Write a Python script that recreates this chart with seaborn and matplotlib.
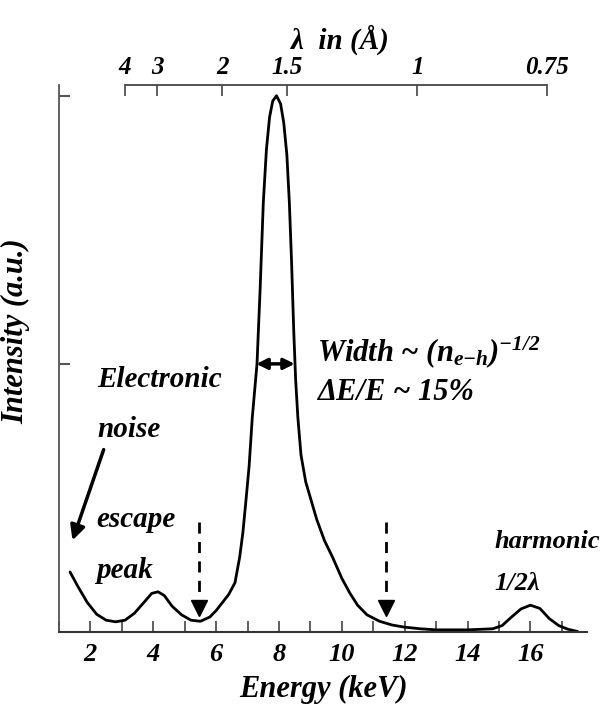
import matplotlib
import matplotlib.pyplot as plt
import numpy as np
import pandas as pd
import seaborn as sns

matplotlib.use('agg')

# detector spectrum: energy in keV, intensity normalised to the main peak
energy_kev = [1.35, 1.6, 1.9, 2.2, 2.5, 2.8, 3.1, 3.4, 3.7, 3.95, 4.15, 4.35, 4.6, 4.9,
              5.2, 5.5, 5.8, 6.0, 6.2, 6.4, 6.6, 6.75, 6.85, 6.95, 7.05, 7.15, 7.3, 7.4,
              7.5, 7.6, 7.7, 7.8, 7.92, 8.05, 8.15, 8.25, 8.33, 8.4, 8.47, 8.53, 8.6,
              8.7, 8.85, 9.0, 9.2, 9.45, 9.7, 10.0, 10.25, 10.5, 10.8, 11.2, 11.6, 12.0,
              12.5, 13.0, 14.0, 14.8, 15.1, 15.4, 15.7, 16.0, 16.3, 16.6, 16.9, 17.2, 17.5]
intensity = [0.112, 0.085, 0.055, 0.033, 0.022, 0.019, 0.022, 0.035, 0.055, 0.072, 0.075,
             0.068, 0.048, 0.032, 0.022, 0.020, 0.028, 0.040, 0.055, 0.070, 0.092, 0.14,
             0.185, 0.246, 0.31, 0.40, 0.50, 0.64, 0.80, 0.90, 0.96, 0.99, 1.0, 0.985,
             0.95, 0.89, 0.80, 0.69, 0.56, 0.47, 0.40, 0.33, 0.28, 0.25, 0.21, 0.17, 0.14,
             0.10, 0.073, 0.05, 0.032, 0.02, 0.013, 0.009, 0.006, 0.004, 0.004, 0.006,
             0.012, 0.028, 0.043, 0.050, 0.044, 0.025, 0.012, 0.005, 0.001]

energy_major = [2, 4, 6, 8, 10, 12, 14, 16]
energy_minor = [1, 3, 5, 7, 9, 11, 13, 15, 17]
wavelength_ticks = [4, 3, 2, 1.5, 1, 0.75]
wavelength_labels = ['4', '3', '2', '1.5', '1', '0.75']
escape_markers = [5.47, 11.4]

HC = 12.398  # keV * Angstrom

df = pd.DataFrame({'energy': energy_kev, 'intensity': intensity})

sns.set_theme(style='ticks')
plt.rcParams['font.family'] = ['Liberation Serif', 'DejaVu Serif']
plt.rcParams['font.style'] = 'italic'
plt.rcParams['font.weight'] = 'bold'
plt.rcParams['axes.labelweight'] = 'bold'
plt.rcParams['text.color'] = 'black'
plt.rcParams['axes.labelcolor'] = 'black'
plt.rcParams['mathtext.fontset'] = 'custom'
plt.rcParams['mathtext.rm'] = 'Liberation Serif:italic:bold'
plt.rcParams['mathtext.it'] = 'Liberation Serif:italic:bold'
plt.rcParams['mathtext.bf'] = 'Liberation Serif:italic:bold'

fig = plt.figure(figsize=(6.09, 7.18), dpi=100)
ax = fig.add_axes([59 / 609, 86 / 718, 528 / 609, 547 / 718])

sns.lineplot(data=df, x='energy', y='intensity', ax=ax, color='black', linewidth=2.0)

ax.set_xlim(1, 17.8)
ax.set_ylim(0, 1.02)
sns.despine(ax=ax, top=True, right=True)
ax.spines['left'].set_color('#555555')
ax.spines['left'].set_linewidth(1.3)
ax.spines['bottom'].set_color('#333333')
ax.spines['bottom'].set_linewidth(1.5)

ax.set_xticks(energy_major)
ax.set_xticks(energy_minor, minor=True)
ax.set_xticklabels([str(v) for v in energy_major])
ax.tick_params(axis='x', which='both', direction='in', length=8, width=1.2, colors='#444444',
               labelcolor='black', labelsize=19, pad=8)
ax.set_yticks([0.5, 1.0])
ax.set_yticklabels([])
ax.tick_params(axis='y', direction='in', length=8, width=1.5, colors='#555555')

ax.set_xlabel('Energy (keV)', fontsize=22, labelpad=6)
ax.set_ylabel('Intensity (a.u.)', fontsize=22, labelpad=14)
ax.yaxis.set_label_coords(-0.055, 0.55)

# wavelength scale on top
sec = ax.secondary_xaxis('top', functions=(lambda e: HC / np.clip(e, 1e-3, None),
                                           lambda w: HC / np.clip(w, 1e-3, None)))
sec.set_xticks(wavelength_ticks)
sec.set_xticklabels(wavelength_labels)
sec.spines['top'].set_bounds(4, 0.75)
sec.spines['top'].set_color('#444444')
sec.spines['top'].set_linewidth(1.3)
sec.tick_params(axis='x', direction='in', length=8, width=1.2, colors='#444444',
                labelcolor='black', labelsize=18, pad=4)
fig.text(340 / 609, 1 - 40 / 718, 'λ  in (Å)', fontsize=21, ha='center', va='center')

# annotations
ax.text(2.22, 0.457, 'Electronic', fontsize=21)
ax.text(2.22, 0.364, 'noise', fontsize=21)
ax.annotate('', xy=(1.40, 0.166), xytext=(2.45, 0.345),
            arrowprops=dict(arrowstyle='-|>', color='black', lw=2.5, mutation_scale=22))
ax.text(2.19, 0.195, 'escape', fontsize=21)
ax.text(2.19, 0.101, 'peak', fontsize=21)

for xm in escape_markers:
    ax.plot([xm, xm], [0.205, 0.05], color='black', lw=2, linestyle=(0, (4, 3)))
    ax.plot([xm], [0.045], marker='v', color='black', markersize=11)

ax.annotate('', xy=(7.28, 0.5), xytext=(8.5, 0.5),
            arrowprops=dict(arrowstyle='<|-|>', color='black', lw=2.5, mutation_scale=16,
                            shrinkA=0, shrinkB=0))
ax.text(9.22, 0.504, r'Width ~ $(n_{e\mathrm{-}h})^{-1/2}$', fontsize=22)
ax.text(9.22, 0.433, 'ΔE/E ~ 15%', fontsize=22)
ax.text(14.85, 0.157, 'harmonic', fontsize=19)
ax.text(14.85, 0.078, '1/2λ', fontsize=19)

fig.savefig('out.png', dpi=100)
